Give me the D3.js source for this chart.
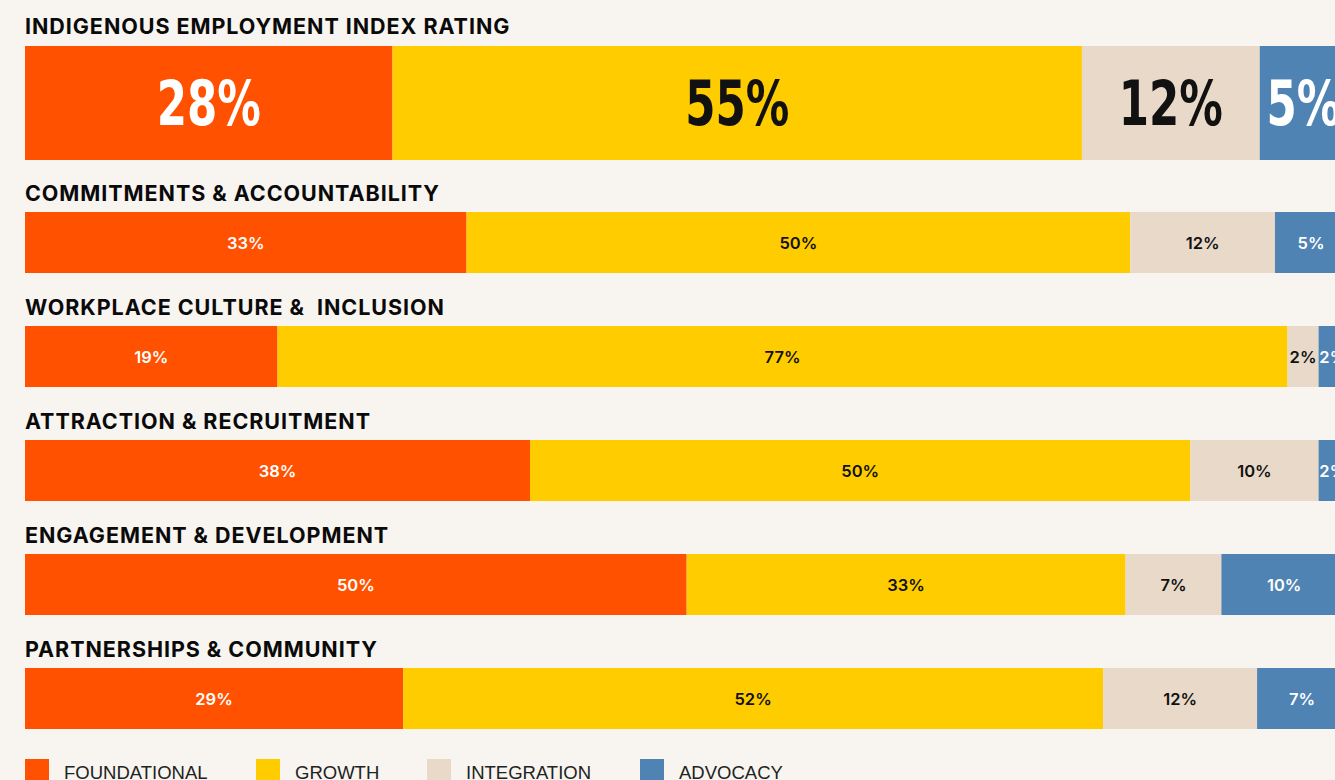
<!DOCTYPE html>
<html>
<head>
<meta charset="utf-8">
<script src="https://cdn.jsdelivr.net/npm/d3@7"></script>
<style>
  html, body { margin: 0; padding: 0; background: #f8f5f0; }
  svg { display: block; }
</style>
</head>
<body>
<svg id="chart" width="1335" height="780"></svg>
<script>
// ---- DATA ----
const categories = [
  "INDIGENOUS EMPLOYMENT INDEX RATING",
  "COMMITMENTS & ACCOUNTABILITY",
  "WORKPLACE CULTURE &  INCLUSION",
  "ATTRACTION & RECRUITMENT",
  "ENGAGEMENT & DEVELOPMENT",
  "PARTNERSHIPS & COMMUNITY"
];
const seriesNames = ["FOUNDATIONAL", "GROWTH", "INTEGRATION", "ADVOCACY"];
const seriesKeys = ["foundational", "growth", "integration", "advocacy"];

// bar shares as drawn
const foundational = [27.8, 33.4, 19.1, 38.2, 50.05, 28.6];
const growth       = [52.15, 50.2, 76.4, 49.95, 33.2, 52.95];
const integration  = [13.45, 10.95, 2.35, 9.7, 7.25, 11.65];
const advocacy     = [6.6, 5.45, 2.15, 2.15, 9.5, 6.8];

// printed labels
const foundationalLabels = ["28%", "33%", "19%", "38%", "50%", "29%"];
const growthLabels       = ["55%", "50%", "77%", "50%", "33%", "52%"];
const integrationLabels  = ["12%", "12%", "2%", "10%", "7%", "12%"];
const advocacyLabels     = ["5%", "5%", "2%", "2%", "10%", "7%"];

const colors = ["#ff5100", "#ffcc00", "#e8d9c9", "#4f83b4"];
const labelColors = ["#ffffff", "#111111", "#111111", "#ffffff"];

// ---- BUILD ----
const rows = categories.map((c, i) => ({
  category: c,
  foundational: foundational[i],
  growth: growth[i],
  integration: integration[i],
  advocacy: advocacy[i],
  labels: [foundationalLabels[i], growthLabels[i], integrationLabels[i], advocacyLabels[i]]
}));

const svg = d3.select("#chart");
svg.append("rect").attr("width", 1335).attr("height", 780).attr("fill", "#f8f5f0");

const x = d3.scaleLinear().domain([0, 100]).range([25, 1347]);

// row geometry
const rowY = i => i === 0 ? 46 : 212 + (i - 1) * 114;
const rowH = i => i === 0 ? 114 : 61;
const titleY = i => i === 0 ? 33.5 : 201 + (i - 1) * 114;

const stack = d3.stack().keys(seriesKeys);
const stacked = stack(rows);

const g = svg.append("g");

// titles
g.selectAll("text.title")
  .data(rows)
  .join("text")
  .attr("class", "title")
  .attr("x", 25)
  .attr("y", (d, i) => titleY(i))
  .attr("fill", "#0a0a0a")
  .style("font-family", "Inter, 'Liberation Sans', sans-serif")
  .style("font-weight", 700)
  .style("font-size", "21.5px")
  .style("letter-spacing", "0.95px")
  .style("white-space", "pre")
  .text(d => d.category);

// segments
stacked.forEach((layer, si) => {
  const lg = g.append("g");
  lg.selectAll("rect")
    .data(layer)
    .join("rect")
    .attr("x", d => x(d[0]))
    .attr("y", (d, i) => rowY(i))
    .attr("width", d => x(d[1]) - x(d[0]))
    .attr("height", (d, i) => rowH(i))
    .attr("fill", colors[si]);

  lg.selectAll("text")
    .data(layer)
    .join("text")
    .attr("transform", (d, i) => {
      const cx = (x(d[0]) + x(d[1])) / 2;
      return i === 0
        ? `translate(${cx},${rowY(i) + 79}) scale(0.78,1)`
        : `translate(${cx},${rowY(i) + 36.5})`;
    })
    .attr("text-anchor", "middle")
    .attr("fill", labelColors[si])
    .style("font-family", (d, i) => i === 0 ? "'DejaVu Sans Condensed', 'DejaVu Sans', sans-serif" : "Inter, 'Liberation Sans', sans-serif")
    .style("font-weight", (d, i) => i === 0 ? 700 : 600)
    .style("font-size", (d, i) => i === 0 ? "62px" : "16.5px")
    .text((d, i) => rows[i].labels[si]);
});

// legend
const legendX = [25, 256, 427, 640];
const legend = svg.append("g");
seriesNames.forEach((name, i) => {
  legend.append("rect")
    .attr("x", legendX[i]).attr("y", 759)
    .attr("width", 24).attr("height", 24)
    .attr("fill", colors[i]);
  legend.append("text")
    .attr("x", legendX[i] + 39).attr("y", 779)
    .attr("fill", "#222")
    .style("font-family", "'Liberation Sans', Arial, sans-serif")
    .style("font-size", "18.5px")
    .text(name);
});
</script>
</body>
</html>
